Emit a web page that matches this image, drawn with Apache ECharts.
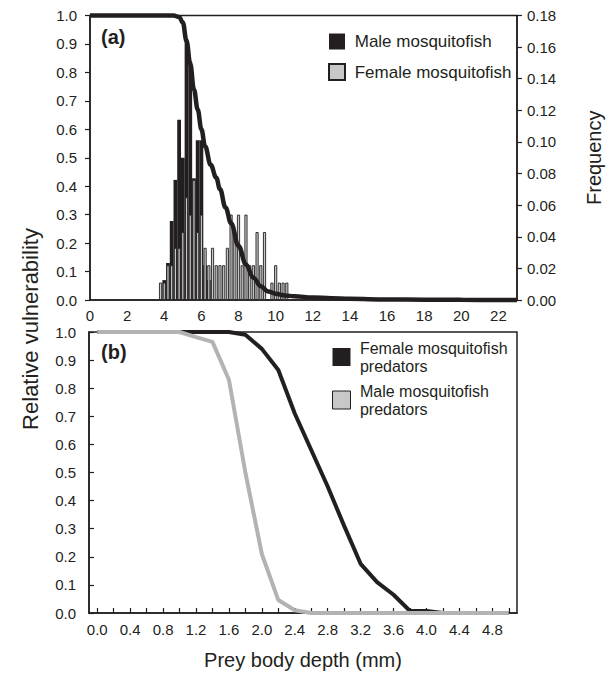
<!DOCTYPE html>
<html>
<head>
<meta charset="utf-8">
<script src="https://cdn.jsdelivr.net/npm/echarts@6/dist/echarts.min.js"></script>
<style>
html,body{margin:0;padding:0;background:#fff;}
#chart{width:613px;height:676px;}
</style>
</head>
<body>
<div id="chart"></div>
<script>
// ---------- Panel (a): histogram of prey body depth ----------
const maleBins = [4.0, 4.2, 4.4, 4.6, 4.8, 5.0, 5.2, 5.4, 5.6, 5.8, 6.0, 6.2, 6.4];
const maleFreq = [0.0126, 0.0234, 0.050, 0.076, 0.114, 0.090, 0.165, 0.151, 0.077, 0.101, 0.101, 0.022, 0.0126];

const femaleBins = [3.8, 4.0, 4.2, 4.4, 4.6, 4.8, 5.0, 5.2, 5.4, 5.6, 5.8, 6.0, 6.2, 6.4, 6.6, 6.8, 7.0, 7.2, 7.4, 7.6,
                    7.8, 8.0, 8.2, 8.4, 8.6, 8.8, 9.0, 9.2, 9.4, 9.6, 9.8, 10.0, 10.2, 10.4, 10.6];
const femaleFreq = [0.011, 0.011, 0.022, 0.022, 0.033, 0.033, 0.043, 0.065, 0.054, 0.076, 0.043, 0.054, 0.033, 0.022, 0.033, 0.022, 0.022, 0.022, 0.033, 0.054,
                    0.043, 0.054, 0.022, 0.054, 0.022, 0.022, 0.043, 0.022, 0.043, 0, 0.011, 0.022, 0.011, 0.011, 0.011];

// vulnerability curve in panel (a)
const curveX = [0, 2, 4, 4.5, 4.8, 5.0, 5.2, 5.4, 5.6, 5.8, 6.0, 6.2, 6.5, 6.8, 7.0, 7.3, 7.6, 8.0, 8.4, 8.8, 9.2, 9.6, 10.0, 10.5, 11, 12, 13, 14, 16, 18, 20, 23];
const curveY = [1, 1, 1, 1, 0.995, 0.975, 0.91, 0.83, 0.74, 0.67, 0.60, 0.54, 0.475, 0.43, 0.39, 0.325, 0.27, 0.19, 0.125, 0.078, 0.048, 0.030, 0.022, 0.016, 0.013, 0.009, 0.006, 0.004, 0.002, 0.001, 0.0005, 0];

const xTicksA = [0, 2, 4, 6, 8, 10, 12, 14, 16, 18, 20, 22];

// ---------- Panel (b): vulnerability to predators ----------
const depthCats = ['0.0','0.2','0.4','0.6','0.8','1.0','1.2','1.4','1.6','1.8','2.0','2.2','2.4','2.6','2.8','3.0','3.2','3.4','3.6','3.8','4.0','4.2','4.4','4.6','4.8','5.0'];
const femalePred = [1, 1, 1, 1, 1, 1, 1, 1, 1, 0.99, 0.94, 0.865, 0.71, 0.58, 0.45, 0.31, 0.175, 0.11, 0.065, 0.007, 0.007, 0, 0, 0, 0, 0];
const malePred   = [1, 1, 1, 1, 1, 1, 0.982, 0.965, 0.83, 0.50, 0.21, 0.046, 0.01, 0, 0, 0, 0, 0, 0, 0, 0, 0, 0, 0, 0, 0];

const INK = '#231f20';
const GREY_BAR = '#c8c8c8';
const GREY_LINE = '#b3b3b3';
const FONT = 'Liberation Sans, Arial, sans-serif';

const chart = echarts.init(document.getElementById('chart'), null, {renderer: 'svg'});

const axisLineStyle = {show: true, onZero: false, lineStyle: {color: INK, width: 1.5}};
const labelStyle = {fontSize: 15, color: INK, fontFamily: FONT};

const option = {
  animation: false,
  backgroundColor: '#fff',
  textStyle: {fontFamily: FONT, color: INK},
  grid: [
    {left: 90, top: 15.5, width: 427, height: 284.5, show: true, borderColor: INK, borderWidth: 1.5, backgroundColor: 'transparent'},
    {left: 89, top: 332, width: 428, height: 281, show: true, borderColor: INK, borderWidth: 1.5, backgroundColor: 'transparent'}
  ],
  legend: [
    {
      left: 328, top: 33, orient: 'vertical', itemWidth: 16, itemHeight: 16, itemGap: 13, padding: 0,
      selectedMode: false,
      data: [
        {name: 'Male mosquitofish', icon: 'rect'},
        {name: 'Female mosquitofish', icon: 'rect'}
      ],
      formatter: n => ' ' + n,
      textStyle: {fontSize: 17, color: INK, fontFamily: FONT}
    },
    {
      left: 332, top: 339, orient: 'vertical', itemWidth: 18, itemHeight: 18, itemGap: 7, padding: 0,
      selectedMode: false,
      data: [
        {name: 'Female mosquitofish\npredators', icon: 'rect'},
        {name: 'Male mosquitofish\npredators', icon: 'rect', itemStyle: {color: '#c8c8c8', borderColor: INK, borderWidth: 1}}
      ],
      formatter: n => n.split('\n').map(s => ' ' + s).join('\n'),
      textStyle: {fontSize: 16, lineHeight: 18, color: INK, fontFamily: FONT}
    }
  ],
  xAxis: [
    {
      gridIndex: 0, type: 'value', min: 0, max: 23, interval: 2,
      axisLine: axisLineStyle, axisTick: {show: false}, splitLine: {show: false},
      axisLabel: Object.assign({margin: 8, showMaxLabel: false,
        formatter: v => (xTicksA.indexOf(v) >= 0 ? String(v) : '')}, labelStyle)
    },
    {gridIndex: 0, type: 'value', min: 0, max: 23, show: false},
    {
      gridIndex: 1, type: 'category', data: depthCats, boundaryGap: true,
      axisLine: axisLineStyle,
      axisTick: {show: true, inside: true, alignWithLabel: true, interval: 0, length: 5, lineStyle: {color: INK, width: 1.2}},
      axisLabel: Object.assign({interval: 1, margin: 9}, labelStyle),
      name: 'Prey body depth (mm)', nameLocation: 'middle', nameGap: 37,
      nameTextStyle: {fontSize: 20, color: INK, fontFamily: FONT}
    }
  ],
  yAxis: [
    {
      gridIndex: 0, type: 'value', min: 0, max: 1, interval: 0.1, position: 'left',
      axisLine: axisLineStyle, splitLine: {show: false},
      axisTick: {show: true, inside: false, length: 5, lineStyle: {color: INK, width: 1.2}},
      axisLabel: Object.assign({margin: 13, formatter: v => v.toFixed(1)}, labelStyle)
    },
    {
      gridIndex: 0, type: 'value', min: 0, max: 0.18, interval: 0.02, position: 'right',
      axisLine: axisLineStyle, splitLine: {show: false},
      axisTick: {show: true, inside: false, length: 5, lineStyle: {color: INK, width: 1.2}},
      axisLabel: Object.assign({margin: 10, formatter: v => v.toFixed(2)}, labelStyle),
      name: 'Frequency', nameLocation: 'middle', nameRotate: 90, nameGap: 67,
      nameTextStyle: {fontSize: 20, color: INK, fontFamily: FONT}
    },
    {
      gridIndex: 1, type: 'value', min: 0, max: 1, interval: 0.1,
      axisLine: axisLineStyle, splitLine: {show: false},
      axisTick: {show: true, inside: true, length: 5, lineStyle: {color: INK, width: 1.2}},
      axisLabel: Object.assign({margin: 13, formatter: v => v.toFixed(1)}, labelStyle)
    }
  ],
  graphic: [
    {type: 'text', x: 101, y: 27, style: {text: '(a)', fontSize: 20, fontWeight: 'bold', fill: INK, fontFamily: FONT}},
    {type: 'text', x: 101, y: 342, style: {text: '(b)', fontSize: 20, fontWeight: 'bold', fill: INK, fontFamily: FONT}},
    {type: 'text', x: 30, y: 329, rotation: Math.PI / 2,
     style: {text: 'Relative vulnerability', fontSize: 22, fill: INK, fontFamily: FONT, align: 'center', verticalAlign: 'middle'}}
  ],
  series: [
    {
      name: 'Male mosquitofish', type: 'bar', xAxisIndex: 0, yAxisIndex: 1,
      data: maleBins.map((x, i) => [x, maleFreq[i]]),
      barWidth: 3.8, itemStyle: {color: INK}, z: 2
    },
    {
      name: 'Female mosquitofish', type: 'bar', xAxisIndex: 1, yAxisIndex: 1,
      data: femaleBins.map((x, i) => [x, femaleFreq[i]]),
      barWidth: 3.1, itemStyle: {color: GREY_BAR, borderColor: INK, borderWidth: 0.9}, z: 3
    },
    {
      name: 'vulnerability', type: 'line', xAxisIndex: 0, yAxisIndex: 0,
      data: curveX.map((x, i) => [x, curveY[i]]),
      smooth: 0.4, smoothMonotone: 'x', showSymbol: false, clip: false,
      lineStyle: {color: INK, width: 4.5}, itemStyle: {color: INK}, z: 4
    },
    {
      name: 'Female mosquitofish\npredators', type: 'line', xAxisIndex: 2, yAxisIndex: 2,
      data: femalePred, showSymbol: false, clip: false,
      lineStyle: {color: INK, width: 4}, itemStyle: {color: INK}, z: 2
    },
    {
      name: 'Male mosquitofish\npredators', type: 'line', xAxisIndex: 2, yAxisIndex: 2,
      data: malePred, showSymbol: false, clip: false,
      lineStyle: {color: GREY_LINE, width: 4}, itemStyle: {color: GREY_LINE}, z: 3
    }
  ]
};
chart.setOption(option);
</script>
</body>
</html>
